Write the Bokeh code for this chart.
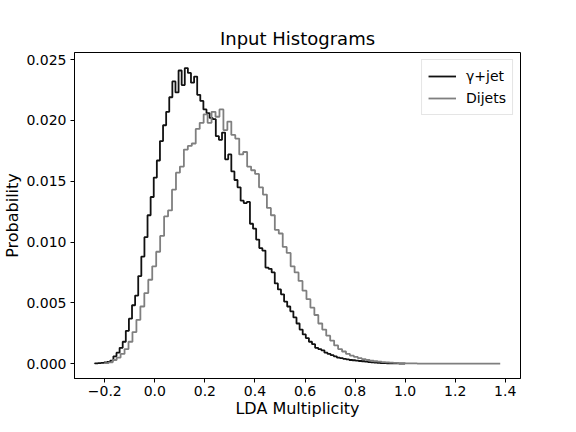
import numpy as np
from bokeh.plotting import figure
from bokeh.models import Range1d, FixedTicker, CustomJSTickFormatter, Legend, LegendItem
from bokeh.embed import file_html
from bokeh.resources import INLINE

# bin ranges of the two histograms (100 bins each)
gjet_lo, gjet_hi = -0.24, 1.0
dijet_lo, dijet_hi = -0.2, 1.38

# gamma+jet probabilities per bin
gjet_vals = [
    0.00002, 0.00004, 0.00006, 0.0001, 0.00015, 0.00025, 0.0006, 0.0009, 0.0013, 0.0018,
    0.0027, 0.0037, 0.0048, 0.0056, 0.0072, 0.0088, 0.0104, 0.0122, 0.0137, 0.0153,
    0.0167, 0.0183, 0.0196, 0.0207, 0.0219, 0.0232, 0.0223, 0.0241, 0.0229, 0.0243,
    0.0239, 0.0231, 0.0236, 0.0221, 0.0216, 0.0209, 0.0206, 0.0202, 0.0201, 0.0187,
    0.0184, 0.0190, 0.0168, 0.0172, 0.0158, 0.0151, 0.0145, 0.0134, 0.0132, 0.0133,
    0.0115, 0.0111, 0.0102, 0.0095, 0.0093, 0.0079, 0.0078, 0.0075, 0.0066, 0.0061,
    0.0057, 0.0051, 0.0047, 0.0043, 0.0038, 0.0033, 0.0028, 0.0024, 0.0021, 0.0018,
    0.0016, 0.0013, 0.0012, 0.0011, 0.0009, 0.0008, 0.0007, 0.0006, 0.0005, 0.00045,
    0.0004, 0.00035, 0.0003, 0.00028, 0.00025, 0.00022, 0.0002, 0.00016, 0.00013, 0.0001,
    0.00008, 0.00006, 0.00005, 0.00004, 0.00003, 0.00003, 0.00002, 0.00002, 0.00001, 0.00001,
]

# dijet probabilities per bin
dijet_vals = [
    0.00005, 0.0001, 0.0003, 0.0005, 0.0008, 0.0012, 0.0018, 0.0026, 0.0036, 0.0047,
    0.0058, 0.0069, 0.0080, 0.0092, 0.0105, 0.0121, 0.0126, 0.0143, 0.0157, 0.0162,
    0.0176, 0.0179, 0.0181, 0.0193, 0.0198, 0.0205, 0.0198, 0.0207, 0.0203, 0.0209,
    0.0192, 0.0199, 0.0188, 0.0185, 0.0172, 0.0174, 0.0162, 0.0159, 0.0156, 0.0145,
    0.0139, 0.0128, 0.0122, 0.0110, 0.0107, 0.0096, 0.0091, 0.0080, 0.0075, 0.0068,
    0.0060, 0.0053, 0.0046, 0.0040, 0.0033, 0.0028, 0.0023, 0.0019, 0.0015, 0.0012,
    0.0010, 0.0008, 0.00066, 0.00055, 0.00045, 0.00038, 0.0003, 0.00025, 0.0002, 0.00016,
    0.00013, 0.0001, 0.00008, 0.00006, 0.00005, 0.00004, 0.00003, 0.00002, 0.00002, 0.00001,
    0.0, 0.0, 0.0, 0.0, 0.0, 0.0, 0.0, 0.0, 0.0, 0.0,
    0.0, 0.0, 0.0, 0.0, 0.0, 0.0, 0.0, 0.0, 0.0, 0.0,
]

x_ticks = [-0.2, 0.0, 0.2, 0.4, 0.6, 0.8, 1.0, 1.2, 1.4]
y_ticks = [0.0, 0.005, 0.010, 0.015, 0.020, 0.025]

series_labels = ["\u03b3+jet", "Dijets"]
x_title = "LDA Multiplicity"
y_title = "Probability"


def outline(lo, hi, vals):
    vals = np.asarray(vals, dtype=float)
    edges = np.linspace(lo, hi, len(vals) + 1)
    xs = np.repeat(edges, 2)
    ys = np.concatenate([[0.0], np.repeat(vals, 2), [0.0]])
    return xs, ys


FONT = "DejaVu Sans"

p = figure(
    frame_width=446, frame_height=326,
    output_backend="svg", toolbar_location=None,
    x_range=Range1d(-0.321, 1.461), y_range=Range1d(-0.00122, 0.02558),
    min_border_left=72, min_border_right=50, min_border_top=52, min_border_bottom=46,
    title="Input Histograms",
)
p.title.align = "center"
p.title.text_font = FONT
p.title.text_font_size = "18px"
p.title.text_font_style = "normal"
p.title.text_color = "black"
p.title.standoff = 8

p.grid.visible = False
p.outline_line_color = "black"
p.outline_line_width = 1
p.background_fill_color = "white"
p.border_fill_color = "white"

gx, gy = outline(gjet_lo, gjet_hi, gjet_vals)
dx, dy = outline(dijet_lo, dijet_hi, dijet_vals)
r1 = p.line(gx, gy, line_color="#111111", line_width=1.8)
r2 = p.line(dx, dy, line_color="#7f7f7f", line_width=1.8)

for ax in (p.xaxis[0], p.yaxis[0]):
    ax.axis_line_color = "black"
    ax.major_tick_line_color = "black"
    ax.major_tick_out = 4
    ax.major_tick_in = 0
    ax.minor_tick_line_color = None
    ax.major_label_text_font = FONT
    ax.major_label_text_font_size = "14px"
    ax.major_label_text_color = "black"
    ax.axis_label_text_font = FONT
    ax.axis_label_text_font_size = "16px"
    ax.axis_label_text_font_style = "normal"
    ax.axis_label_text_color = "black"

p.xaxis.ticker = FixedTicker(ticks=x_ticks)
p.yaxis.ticker = FixedTicker(ticks=y_ticks)
p.xaxis.formatter = CustomJSTickFormatter(code="return tick.toFixed(1).replace('-', '\u2212');")
p.yaxis.formatter = CustomJSTickFormatter(code="return tick.toFixed(3);")
p.xaxis.axis_label = x_title
p.yaxis.axis_label = y_title
p.xaxis.major_label_standoff = 3
p.yaxis.major_label_standoff = 4
p.xaxis.axis_label_standoff = 0
p.yaxis.axis_label_standoff = 1

legend = Legend(items=[LegendItem(label=series_labels[0], renderers=[r1]),
                       LegendItem(label=series_labels[1], renderers=[r2])])
legend.location = "top_right"
legend.margin = 7
legend.padding = 6
legend.spacing = 2
legend.glyph_width = 28
legend.label_standoff = 10
legend.label_text_font = FONT
legend.label_text_font_size = "14px"
legend.label_text_color = "black"
legend.border_line_color = "#cccccc"
legend.border_line_width = 1
legend.background_fill_alpha = 0.8
p.add_layout(legend)

open("out.html", "w").write(file_html(p, INLINE))
